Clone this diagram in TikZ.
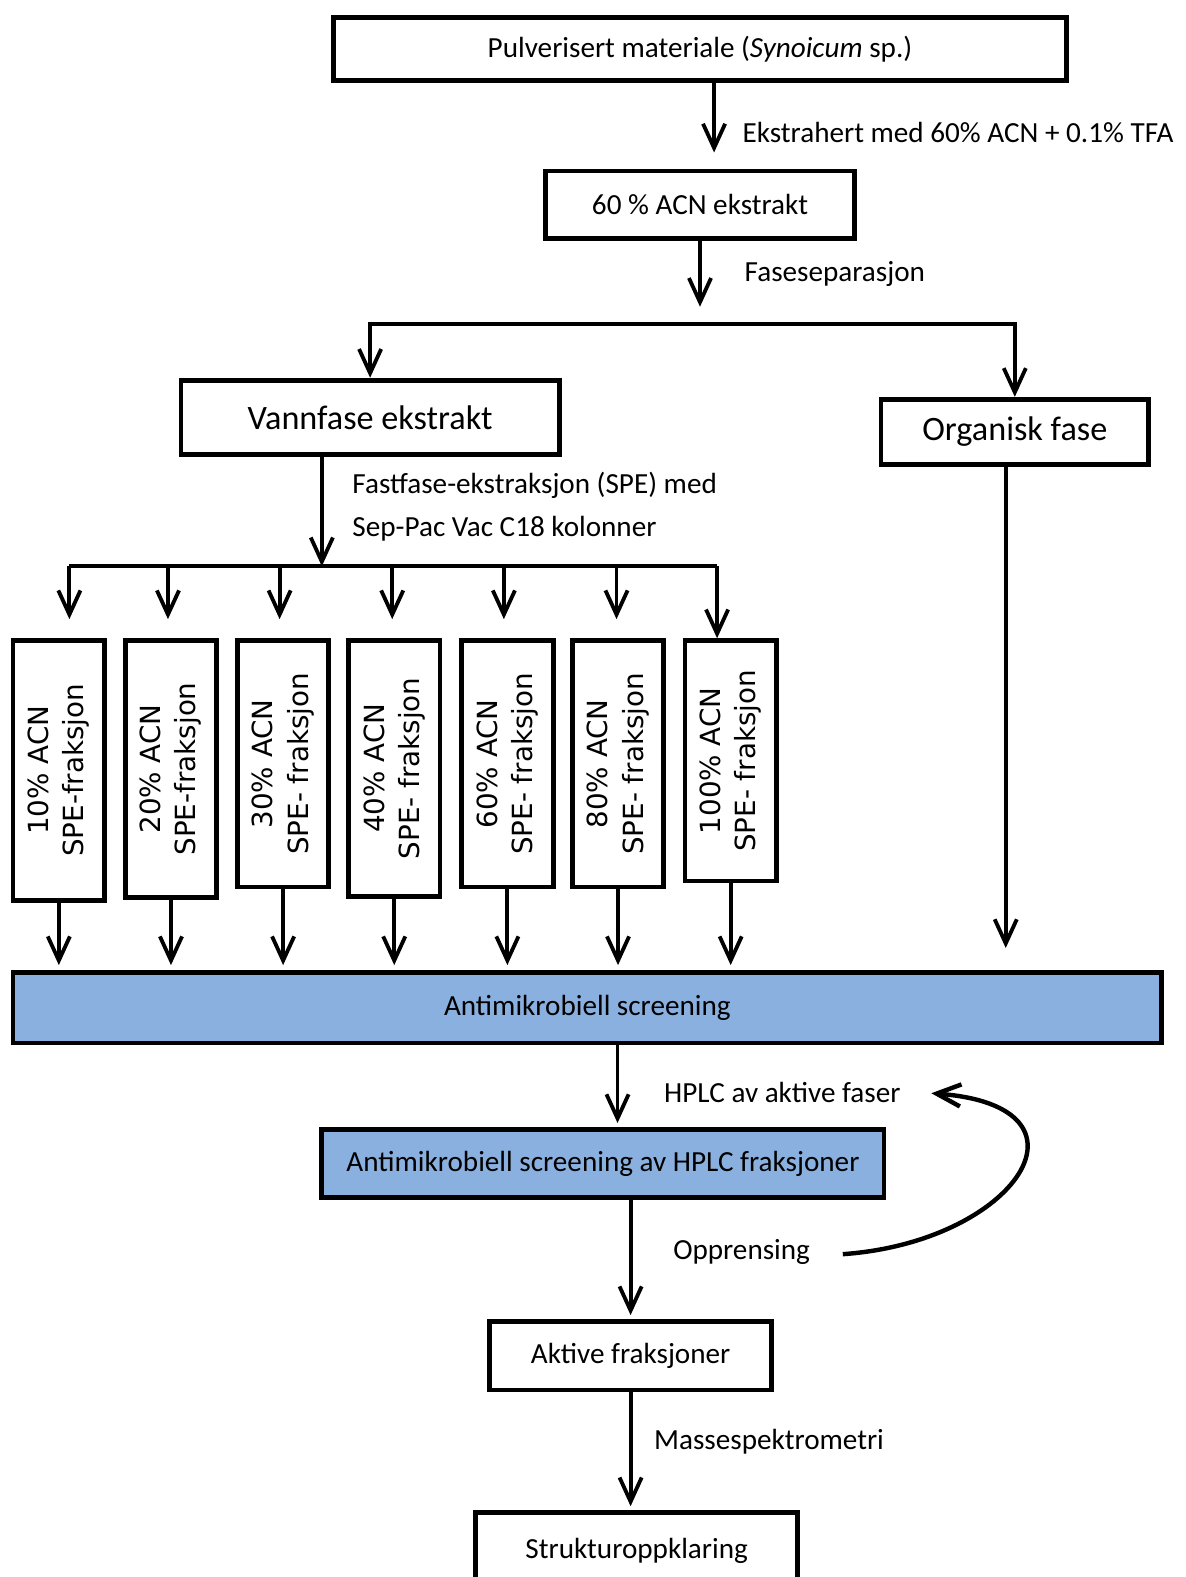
\documentclass[tikz,border=0pt]{standalone}
\usepackage{fontspec}
\setmainfont{Carlito}
\newfontfamily\dejavu{DejaVu Sans}
\usetikzlibrary{arrows.meta, positioning, calc}
\definecolor{screenblue}{RGB}{138,176,224}

\begin{document}
\begin{tikzpicture}[
    x=0.5pt, y=-0.5pt,
    box/.style={rectangle, draw, line width=2.4pt, inner sep=0pt, align=center, font=\fontsize{14.5}{17}\selectfont},
    bigbox/.style={box, font=\fontsize{17}{20}\selectfont},
    fracbox/.style={box, rotate=90, font=\dejavu\fontsize{13.8}{17.5}\selectfont},
    bluebox/.style={box, fill=screenblue},
    lbl/.style={anchor=west, inner sep=0pt, align=left, font=\fontsize{14.5}{21.5}\selectfont},
    arr/.style={-{Straight Barb[length=12pt,width=11pt]}, line width=1.9pt},
    branch/.style={line width=1.9pt}
]
    \useasboundingbox (0,0) rectangle (1179,1568);

    % Extraction
    \node[box, minimum width=364pt, minimum height=31.5pt] (top) at (696,48.5) {Pulverisert materiale (\textit{Synoicum} sp.)};
    \node[box, minimum width=154pt, minimum height=33.5pt] (ext) at (696,203.5) {60 \% ACN ekstrakt};

    % Phases
    \node[bigbox, minimum width=188pt, minimum height=37pt] (vann) at (368,415) {Vannfase ekstrakt};
    \node[bigbox, minimum width=133pt, minimum height=32.5pt] (org) at (1009,429.5) {Organisk fase};

    % SPE fractions
    \foreach \i/\x/\b/\p/\s in {1/58.5/895/10\% ACN/SPE-fraksjon, 2/170/892/20\% ACN/SPE-fraksjon,
        3/281.5/882/30\% ACN/SPE- fraksjon, 4/392/891/40\% ACN/SPE- fraksjon,
        5/504.5/882/60\% ACN/SPE- fraksjon, 6/614.5/882/80\% ACN/SPE- fraksjon,
        7/726.5/876/100\% ACN/SPE- fraksjon}{
        \pgfmathsetmacro\h{(\b-637)/2}
        \node[fracbox, minimum width=\h pt, minimum height=45.5pt] (f\i) at (\x,{(637+\b)/2}) {\p\\\s};
    }

    % Screening
    \node[bluebox, minimum width=571pt, minimum height=35pt] (scr) at (584,1002) {Antimikrobiell screening};
    \node[bluebox, minimum width=279.5pt, minimum height=34pt] (hplc) at (599.5,1157) {Antimikrobiell screening av HPLC fraksjoner};
    \node[box, minimum width=140pt, minimum height=34pt] (akt) at (627,1348) {Aktive fraksjoner};
    \node[box, minimum width=160pt, minimum height=38pt] (str) at (633,1542) {Strukturoppklaring};

    % Labels
    \node[lbl] (ekstr) at (738,132) {Ekstrahert med 60\% ACN + 0.1\% TFA};
    \node[lbl] (fasesep) at (740,272) {Faseseparasjon};
    \node[lbl] (spe) at (350,503.5) {Fastfase-ekstraksjon (SPE) med\\Sep-Pac Vac C18 kolonner};
    \node[lbl] (hplclbl) at (660,1086) {HPLC av aktive faser};
    \node[lbl] (opp) at (669,1245) {Opprensing};
    \node[lbl] (mass) at (650,1433) {Massespektrometri};

    % Arrows
    \draw[arr, shorten >=8pt] ([xshift=7pt]ext.north |- top.south) -- ([xshift=7pt]ext.north);
    \coordinate (sp) at (696,322);
    \draw[arr, shorten >=8.5pt] (ext.south) -- (sp);
    \draw[arr] (sp) -| (vann.north);
    \draw[arr] (sp) -| (org.north);

    \coordinate (sp1) at (69,563);
    \coordinate (sp2) at (167,563);
    \coordinate (sp3) at (278,563);
    \coordinate (sp4) at (390,563);
    \coordinate (sp5) at (501,563);
    \coordinate (sp6) at (613,563);
    \coordinate (sp7) at (713,563);
    \draw[arr] ([xshift=-24pt]vann.south) -- ([xshift=-24pt]vann.south |- sp1);
    \draw[branch] (sp1) -- (sp7);
    \foreach \i in {1,...,6}{
        \draw[arr, shorten >=9.5pt] (sp\i) -- (sp\i |- f\i.east);
    }
    \draw[arr] (sp7) -- (sp7 |- f7.east);

    \foreach \i in {1,...,7}{
        \draw[arr, shorten >=2.5pt] (f\i.west) -- (f\i.west |- scr.north);
    }
    \draw[arr, shorten >=11pt] ([xshift=-4.5pt]org.south) -- ([xshift=-4.5pt]org.south |- scr.north);

    \draw[arr, shorten >=2pt] ([xshift=7.25pt]hplc.north |- scr.south) -- ([xshift=7.25pt]hplc.north);
    \draw[arr, shorten >=2pt] (akt.north |- hplc.south) -- (akt.north);
    \draw[arr, shorten >=2pt] (akt.south) -- (akt.south |- str.north);

    % Loop back
    \coordinate (cstart) at (838,1247);
    \coordinate (cend) at (926,1087);
    \draw[arr, line width=2.2pt] (cstart) .. controls +(172,-12) and +(174,13) .. (cend);
\end{tikzpicture}
\end{document}
